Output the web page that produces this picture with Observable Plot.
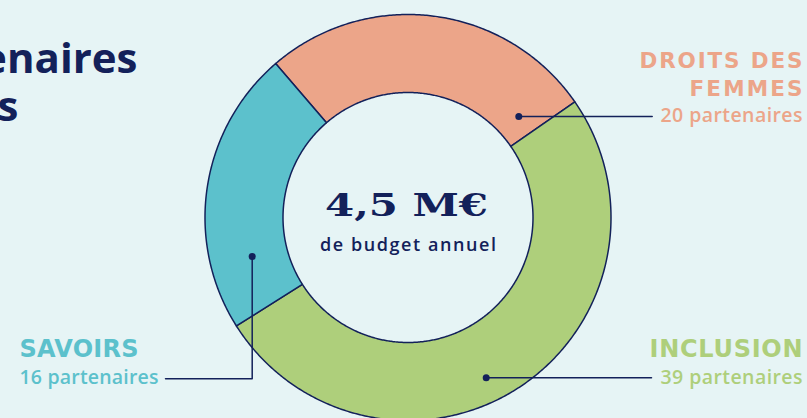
<!DOCTYPE html>
<html><head><meta charset="utf-8">
<script src="https://cdn.jsdelivr.net/npm/d3@7"></script>
<script src="https://cdn.jsdelivr.net/npm/@observablehq/plot@0.6"></script>
<style>html,body{margin:0;padding:0;background:#e6f4f5;overflow:hidden}</style>
</head><body><div id="chart"></div>
<script>
// ---- data ----
const categories = ["Droits des femmes", "Inclusion", "Savoirs"];
const labelLines = [["DROITS DES", "FEMMES"], ["INCLUSION"], ["SAVOIRS"]];
const partnerCounts = [20, 39, 16];
const ringShares = [20, 38, 17]; // share of the ring
const sliceColors = ["#eca589", "#aecf7b", "#5cc1cc"];
const budgetValue = "4,5 M€";
const budgetLabel = "de budget annuel";
const titleLines = ["Nos partenaires", "associatifs"];

// ---- layout ----
const W = 807, H = 418;
const navy = "#13215a";
const bg = "#e6f4f5";
const ring = {cx: 407.5, cy: 217, outer: 203, inner: 125, start: -40.7};
const leaders = [
  {dot: [518.3, 116], path: [[518.3, 116], [651.7, 116]]},
  {dot: [485.7, 377.3], path: [[485.7, 377.3], [651, 377.3]]},
  {dot: [251.7, 256], path: [[251.7, 256], [251.7, 378.3], [165, 378.3]]}
];
const labelLayout = [
  {anchor: "end", x: 802, titleY: [67.3, 95.7], titleSize: 21.5, titleWidths: [163, 113], countY: 121.7, countWidth: 142},
  {anchor: "end", x: 802, titleY: [356], titleSize: 24, titleWidths: [153], countY: 383.3, countWidth: 142},
  {anchor: "start", x: 19, titleY: [356], titleSize: 24, titleWidths: [119], countY: 383.3, countWidth: 139}
];

const rad = Math.PI / 180;
const pie = d3.pie().sort(null).startAngle(ring.start * rad).endAngle(ring.start * rad + 2 * Math.PI);
const arcs = pie(ringShares);
const polar = (a, rho) => ({x: ring.cx + rho * Math.sin(a), y: ring.cy - rho * Math.cos(a)});
const slices = arcs.map((a, i) => {
  const span = a.endAngle - a.startAngle;
  const n = Math.max(2, Math.ceil(span / (Math.PI / 360)));
  const pts = [];
  for (let k = 0; k <= n; k++) pts.push(polar(a.startAngle + span * k / n, ring.outer));
  for (let k = n; k >= 0; k--) pts.push(polar(a.startAngle + span * k / n, ring.inner));
  pts.push(pts[0]);
  return {name: categories[i], color: sliceColors[i], pts};
});

const fits = new Map();
const textMarks = [];
labelLayout.forEach((L, i) => {
  labelLines[i].forEach((line, j) => {
    fits.set(line, [L.titleWidths[j], "spacing"]);
    textMarks.push(Plot.text([{x: L.x, y: L.titleY[j], t: line}], {
      x: "x", y: "y", text: "t", textAnchor: L.anchor, lineAnchor: "bottom",
      fontSize: L.titleSize, fontWeight: 700, fontFamily: "DejaVu Sans", fill: sliceColors[i]
    }));
  });
  const countText = `${partnerCounts[i]} partenaires`;
  fits.set(countText, [L.countWidth, "spacing"]);
  textMarks.push(Plot.text([{x: L.x, y: L.countY, t: countText}], {
    x: "x", y: "y", text: "t", textAnchor: L.anchor, lineAnchor: "bottom",
    fontSize: 19.5, fontWeight: 600, fontFamily: "Open Sans", fill: sliceColors[i]
  }));
});
fits.set(budgetValue, [163, "spacingAndGlyphs"]);
fits.set(budgetLabel, [176, "spacing"]);

const chart = Plot.plot({
  width: W, height: H, margin: 0,
  x: {type: "linear", domain: [0, W], range: [0, W], axis: null},
  y: {type: "linear", domain: [0, H], range: [0, H], axis: null},
  style: {background: bg, fontFamily: "Open Sans", overflow: "hidden"},
  marks: [
    ...slices.map(s => Plot.line(s.pts, {x: "x", y: "y", fill: s.color, stroke: navy, strokeWidth: 1.5, strokeLinejoin: "round"})),
    ...leaders.map(l => Plot.line(l.path, {x: d => d[0], y: d => d[1], stroke: navy, strokeWidth: 1.5})),
    Plot.dot(leaders, {x: d => d.dot[0], y: d => d.dot[1], r: 3.5, fill: navy}),
    Plot.text([{x: 137, y: 72, t: titleLines[0]}, {x: 18, y: 120, t: titleLines[1]}], {
      x: "x", y: "y", text: "t", textAnchor: "end", lineAnchor: "bottom",
      fontSize: 42, fontWeight: 700, fontFamily: "Open Sans", fill: navy
    }),
    Plot.text([{x: 406, y: 215.5, t: budgetValue}], {
      x: "x", y: "y", text: "t", lineAnchor: "bottom",
      fontSize: 32, fontWeight: 700, fontFamily: "DejaVu Serif", fill: navy
    }),
    Plot.text([{x: 407.5, y: 250, t: budgetLabel}], {
      x: "x", y: "y", text: "t", lineAnchor: "bottom",
      fontSize: 18, fontWeight: 600, fontFamily: "Open Sans", fill: navy
    }),
    ...textMarks
  ]
});
chart.querySelectorAll("text").forEach(t => {
  const f = fits.get(t.textContent);
  if (f) { t.setAttribute("textLength", f[0]); t.setAttribute("lengthAdjust", f[1]); }
});
document.getElementById("chart").appendChild(chart);
</script>
</body></html>
